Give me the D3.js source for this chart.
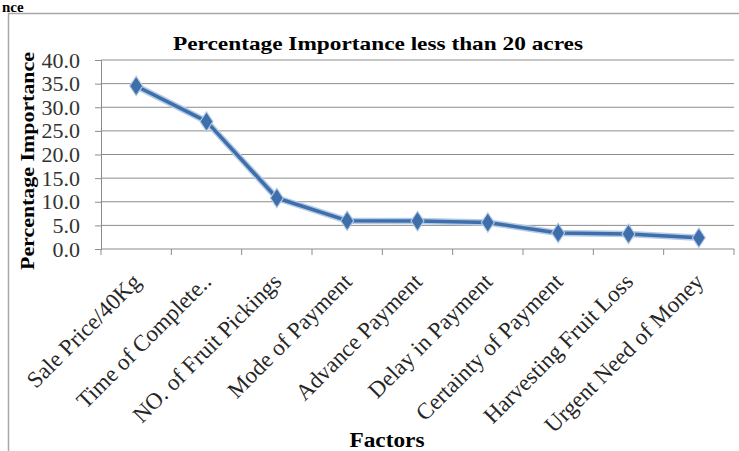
<!DOCTYPE html>
<html lang="en">
<head>
    <meta charset="UTF-8">
    <script src="https://d3js.org/d3.v7.min.js"></script>
    <title>Percentage Importance less than 20 acres</title>
    <style>
        body { margin: 0; background: #fff; }
        svg text { font-family: "Liberation Serif", "Times New Roman", serif; }
    </style>
</head>
<body>
<script>
    const width = 739;
    const height = 451;

    const factors = ["Sale Price/40Kg", "Time of Complete..", "NO. of Fruit Pickings", "Mode of Payment",
        "Advance Payment", "Delay in Payment", "Certainty of Payment", "Harvesting Fruit Loss", "Urgent Need of Money"];
    const importance = [34.5, 27.0, 10.8, 6.0, 5.9, 5.6, 3.4, 3.2, 2.4];
    const yTicks = [0, 5, 10, 15, 20, 25, 30, 35, 40];

    const margin = { left: 101, right: 5, top: 60, bottom: 202 };

    const svg = d3.select("body").append("svg")
        .attr("width", width)
        .attr("height", height);

    // fragment of the page heading above the chart
    svg.append("text")
        .attr("x", 2).attr("y", 12)
        .attr("font-size", "15px").attr("font-weight", "bold")
        .text("nce");

    // chart frame
    svg.append("path")
        .attr("d", `M8.5,${height} V13.5 H${width}`)
        .attr("fill", "none")
        .attr("stroke", "#a8a8a8")
        .attr("stroke-width", 1.5);

    const x = d3.scaleBand()
        .domain(factors)
        .range([margin.left, width - margin.right])
        .padding(0);

    const y = d3.scaleLinear()
        .domain([0, 40])
        .range([height - margin.bottom, margin.top]);

    // gridlines
    svg.append("g")
        .selectAll("line")
        .data(yTicks.filter(d => d > 0))
        .join("line")
        .attr("x1", margin.left).attr("x2", width - margin.right)
        .attr("y1", d => y(d)).attr("y2", d => y(d))
        .attr("stroke", "#8c8c8c")
        .attr("stroke-width", 1);

    // y axis
    const yAxis = svg.append("g")
        .attr("transform", `translate(${margin.left},0)`)
        .call(d3.axisLeft(y).tickValues(yTicks).tickSize(6).tickPadding(15).tickFormat(d3.format(".1f")));
    yAxis.select(".domain").attr("stroke", "#8c8c8c");
    yAxis.selectAll(".tick line").attr("stroke", "#8c8c8c");
    yAxis.selectAll("text")
        .attr("font-size", "22px")
        .attr("fill", "#333")
        .attr("font-family", "Liberation Serif, serif");

    // x axis, ticks on category boundaries
    const edges = factors.map(f => x(f)).concat([x.range()[1]]);
    const xAxis = svg.append("g")
        .attr("transform", `translate(0,${y(0)})`);
    xAxis.append("line")
        .attr("x1", margin.left).attr("x2", width - margin.right)
        .attr("stroke", "#8c8c8c");
    xAxis.selectAll(".tk")
        .data(edges)
        .join("line")
        .attr("class", "tk")
        .attr("x1", d => d).attr("x2", d => d)
        .attr("y1", 0).attr("y2", 6)
        .attr("stroke", "#8c8c8c");
    xAxis.selectAll(".lbl")
        .data(factors)
        .join("text")
        .attr("class", "lbl")
        .attr("text-anchor", "end")
        .attr("font-size", "23px")
        .attr("fill", "#262626")
        .attr("transform", d => `translate(${x(d) + x.bandwidth() / 2 + 6},${34}) rotate(-45)`)
        .text(d => d);

    // line
    const line = d3.line()
        .x((d, i) => x(factors[i]) + x.bandwidth() / 2)
        .y(d => y(d));

    svg.append("path")
        .datum(importance)
        .attr("fill", "none")
        .attr("stroke", "#b4cae6")
        .attr("stroke-width", 6.5)
        .attr("stroke-linejoin", "round")
        .attr("d", line);
    svg.append("path")
        .datum(importance)
        .attr("fill", "none")
        .attr("stroke", "#3f6fab")
        .attr("stroke-width", 3.5)
        .attr("stroke-linejoin", "round")
        .attr("d", line);

    svg.append("g")
        .selectAll("path")
        .data(importance)
        .join("path")
        .attr("d", d3.symbol(d3.symbolDiamond, 110))
        .attr("transform", (d, i) => `translate(${x(factors[i]) + x.bandwidth() / 2},${y(d)}) scale(1.15,1)`)
        .attr("fill", "#3f6fab")
        .attr("stroke", "#b4cae6")
        .attr("stroke-width", 1);

    // titles
    svg.append("text")
        .attr("x", 378).attr("y", 50)
        .attr("text-anchor", "middle")
        .attr("font-size", "19px").attr("font-weight", "bold")
        .attr("textLength", 410).attr("lengthAdjust", "spacingAndGlyphs")
        .text("Percentage Importance less than 20 acres");

    svg.append("text")
        .attr("transform", "translate(34,161) rotate(-90)")
        .attr("text-anchor", "middle")
        .attr("font-size", "19px").attr("font-weight", "bold")
        .attr("textLength", 218).attr("lengthAdjust", "spacingAndGlyphs")
        .text("Percentage Importance");

    svg.append("text")
        .attr("x", 387).attr("y", 447)
        .attr("text-anchor", "middle")
        .attr("font-size", "20px").attr("font-weight", "bold")
        .attr("textLength", 75).attr("lengthAdjust", "spacingAndGlyphs")
        .text("Factors");
</script>
</body>
</html>
